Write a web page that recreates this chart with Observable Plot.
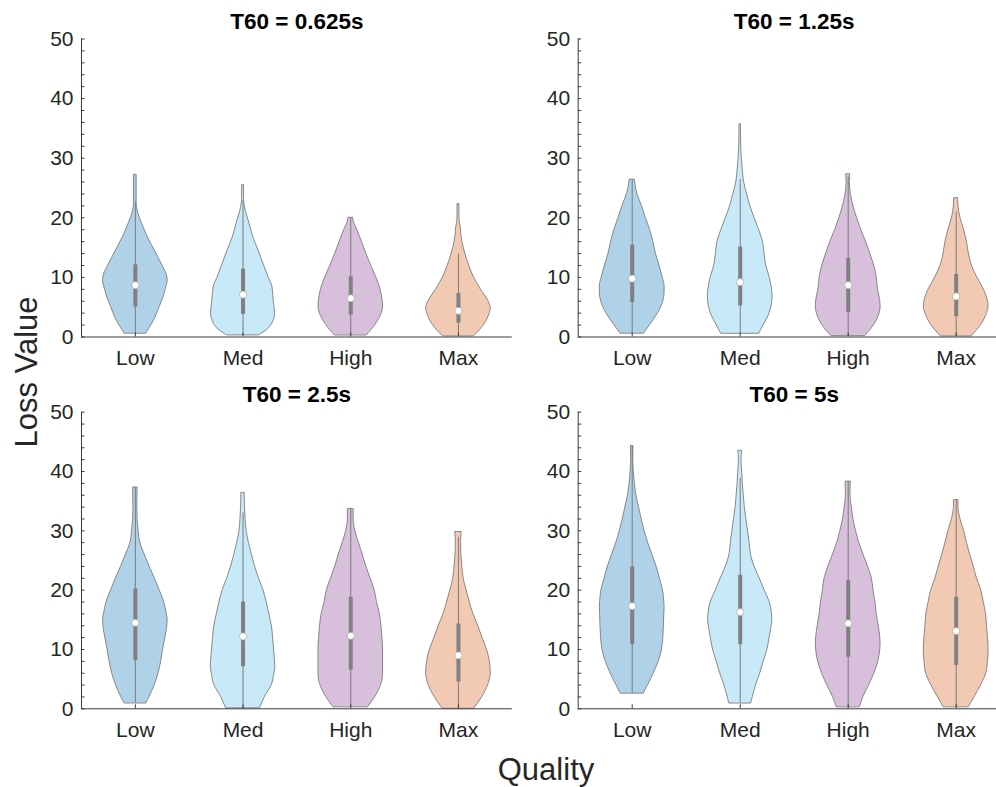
<!DOCTYPE html>
<html>
<head>
<meta charset="utf-8">
<script src="https://cdn.jsdelivr.net/npm/d3@7"></script>
<script src="https://cdn.jsdelivr.net/npm/@observablehq/plot@0.6"></script>
<style>
  body { margin: 0; background: #fff; }
  #fig { position: relative; width: 996px; height: 787px; overflow: hidden;
         font-family: "Liberation Sans", Arial, Helvetica, sans-serif; color: #262626; }
  .panel { position: absolute; }
  .label { position: absolute; font-size: 31px; white-space: nowrap; line-height: 1; }
</style>
</head>
<body>
<div id="fig"></div>
<script>
// Quality levels along the x axis and the reverberation time of each panel
const qualities = ["Low", "Med", "High", "Max"];
const panelTitles = ["T60 = 0.625s", "T60 = 1.25s", "T60 = 2.5s", "T60 = 5s"];
const fillColors = ["#b0d2e9", "#c8e9f7", "#d8bfdc", "#f2cab4"];

// Violin outlines: [loss value, relative density (1 = widest)], from min to max of each group
const outlineT0625 = [
  [[0.6,0.34],[1.5,0.44],[3,0.60],[5,0.75],[6.5,0.86],[8,0.94],[9.5,1.0],[10.5,0.97],[12,0.84],[14.5,0.60],[16.7,0.39],[19,0.21],[21.2,0.07],[22.5,0.04],[27.2,0.04]],
  [[0.3,0.50],[1.2,0.75],[2.5,0.93],[4,0.99],[6,0.95],[8.4,0.91],[10,0.79],[12.3,0.63],[14.5,0.48],[16.7,0.32],[19,0.20],[21.8,0.06],[23,0.03],[25.5,0.03]],
  [[0.3,0.50],[2,0.76],[4,0.96],[5,1.0],[6,0.99],[8,0.92],[10,0.79],[12,0.63],[14,0.48],[16,0.34],[18,0.20],[19.2,0.10],[20,0.07]],
  [[0.15,0.49],[2,0.79],[4,0.97],[4.7,1.0],[6,0.93],[8,0.69],[10,0.48],[12,0.33],[14,0.21],[16,0.12],[17,0.09],[18,0.08],[19,0.05],[20,0.03],[22.3,0.03]]
];
const outlineT125 = [
  [[0.6,0.37],[2,0.55],[4,0.80],[6,0.96],[7.5,1.0],[8.5,1.0],[10,0.94],[12,0.84],[14,0.73],[16,0.65],[18,0.55],[20,0.42],[22,0.30],[24,0.16],[26.4,0.08]],
  [[0.6,0.59],[2,0.73],[4,0.91],[6,0.99],[7,1.0],[8,0.98],[10,0.91],[12,0.80],[14,0.75],[16,0.70],[18,0.58],[20,0.44],[22,0.31],[24,0.21],[26,0.12],[28,0.08],[30,0.05],[32,0.03],[35.7,0.02]],
  [[0.2,0.53],[2,0.80],[4,0.97],[5,1.0],[6,0.99],[8,0.92],[10,0.88],[12,0.80],[14,0.68],[16,0.55],[18,0.40],[20,0.27],[22,0.16],[24,0.08],[26,0.05],[27.3,0.06]],
  [[0.15,0.48],[2,0.77],[4,0.95],[5,1.0],[6,0.98],[8,0.85],[10,0.65],[12,0.48],[14,0.39],[16,0.33],[18,0.24],[20,0.13],[22,0.07],[23.3,0.06]]
];
const outlineT25 = [
  [[0.95,0.34],[2,0.44],[4,0.60],[6,0.72],[8,0.80],[10,0.86],[12,0.93],[14,0.99],[15,1.0],[16,0.97],[18,0.89],[20,0.75],[22,0.60],[24,0.44],[26,0.29],[28,0.15],[30,0.10],[32,0.07],[34,0.06],[37.3,0.07]],
  [[0.15,0.53],[2,0.68],[4,0.89],[6,0.97],[7,1.0],[8,0.99],[10,0.96],[12,0.93],[14,0.89],[16,0.81],[18,0.73],[20,0.63],[22,0.49],[24,0.37],[26,0.27],[28,0.18],[30,0.11],[32,0.08],[34,0.06],[36.4,0.05]],
  [[0.3,0.54],[2,0.76],[4,0.94],[6,1.0],[8,1.0],[10,1.0],[12,0.98],[14,0.95],[16,0.90],[18,0.81],[20,0.74],[22,0.61],[24,0.48],[26,0.37],[28,0.25],[30,0.14],[32,0.09],[33.7,0.09]],
  [[0.05,0.49],[2,0.74],[4,0.92],[6,1.0],[8,0.97],[10,0.88],[12,0.74],[14,0.61],[16,0.46],[18,0.35],[20,0.25],[22,0.16],[24,0.12],[26,0.09],[28,0.08],[29.8,0.10]]
];
const outlineT5 = [
  [[2.6,0.36],[4,0.49],[6,0.67],[8,0.82],[10,0.92],[12,0.96],[14,0.98],[16,0.99],[17,1.0],[18,0.99],[20,0.95],[22,0.85],[24,0.75],[26,0.62],[28,0.49],[30,0.38],[32,0.29],[34,0.21],[36,0.13],[38,0.08],[40,0.05],[42,0.03],[44.3,0.04]],
  [[0.95,0.34],[2,0.39],[4,0.49],[6,0.62],[8,0.73],[10,0.84],[12,0.91],[14,0.97],[15,0.99],[16,0.98],[18,0.91],[20,0.75],[22,0.60],[24,0.44],[26,0.33],[28,0.29],[30,0.24],[32,0.19],[34,0.14],[36,0.11],[38,0.08],[40,0.06],[42,0.04],[43.5,0.06]],
  [[0.3,0.36],[2,0.47],[4,0.65],[6,0.81],[8,0.93],[10,0.99],[11,1.0],[12,0.99],[14,0.94],[16,0.88],[18,0.84],[20,0.78],[22,0.73],[24,0.61],[26,0.47],[28,0.34],[30,0.24],[32,0.16],[34,0.11],[36,0.07],[38.3,0.08]],
  [[0.3,0.39],[2,0.57],[4,0.77],[6,0.93],[8,0.98],[10,1.0],[12,0.98],[14,0.95],[16,0.92],[18,0.85],[20,0.77],[22,0.64],[24,0.54],[26,0.43],[28,0.33],[30,0.24],[32,0.13],[34,0.07],[35.2,0.07]]
];
const outlines = [outlineT0625, outlineT125, outlineT25, outlineT5];

// Box statistics per panel (rows) and quality (columns)
const medians        = [[8.7, 7.1, 6.5, 4.4], [9.8, 9.2, 8.7, 6.8], [14.5, 12.2, 12.3, 9.0], [17.3, 16.3, 14.4, 13.1]];
const lowerQuartiles = [[5.0, 3.8, 3.7, 2.3], [5.8, 5.2, 4.1, 3.4], [8.1, 7.1, 6.5, 4.5], [10.8, 10.8, 8.7, 7.3]];
const upperQuartiles = [[12.1, 11.4, 10.1, 7.3], [15.4, 15.1, 13.2, 10.5], [20.2, 18.0, 18.8, 14.3], [23.9, 22.5, 21.6, 18.8]];
const upperWhiskers  = [[22.7, 22.8, 20.0, 13.9], [26.4, 26.4, 26.8, 21.0], [37.3, 33.0, 33.7, 28.9], [44.3, 38.8, 38.3, 35.2]];

const yMajor = [0, 10, 20, 30, 40, 50];
const yMinor = d3.range(0, 51, 2);

const FONT = '"Liberation Sans", Arial, Helvetica, sans-serif';
const AXIS = "#3a3a3a";
const HALF = 0.3; // widest half-width of a violin, in category units

// Placement of the four panels inside the figure (pixels)
const layout = [
  {left: 0,   top: 0,   width: 520, height: 375, ml: 81,   mr: 8.2, mt: 38.5, mb: 38.5},
  {left: 497, top: 0,   width: 513, height: 375, ml: 80.7, mr: 0.3, mt: 38.5, mb: 38.5},
  {left: 0,   top: 373, width: 520, height: 375, ml: 81,   mr: 8.2, mt: 38.7, mb: 39.7},
  {left: 497, top: 373, width: 513, height: 375, ml: 80.7, mr: 0.3, mt: 38.7, mb: 39.7}
];

const fig = document.getElementById("fig");

layout.forEach((L, k) => {
  const fw = L.width - L.ml - L.mr;
  const fh = L.height - L.mt - L.mb;
  const marks = [];

  outlines[k].forEach((outline, i) => {
    const c = i + 1;
    const rows = outline.map(([y, w]) => ({y, w}));
    marks.push(Plot.areaX(rows, {
      y: "y",
      x1: d => c - HALF * d.w,
      x2: d => c + HALF * d.w,
      curve: "monotone-y",
      fill: fillColors[i],
      stroke: "#7c7c7c",
      strokeWidth: 0.9
    }));
  });

  const stats = qualities.map((q, i) => ({
    c: i + 1,
    lo: outlines[k][i][0][0],
    hi: upperWhiskers[k][i],
    q1: lowerQuartiles[k][i],
    q3: upperQuartiles[k][i],
    med: medians[k][i]
  }));

  // whiskers, interquartile boxes and medians
  marks.push(Plot.ruleX(stats, {x: "c", y1: "lo", y2: "hi", stroke: "#7a7a7a", strokeWidth: 1}));
  marks.push(Plot.ruleX(stats, {x: "c", y1: "q1", y2: "q3", stroke: "#808080", strokeWidth: 4}));
  marks.push(Plot.dot(stats, {x: "c", y: "med", r: 3.6, fill: "white", stroke: "#9a9a9a", strokeWidth: 0.6}));

  // axes: lines, inward ticks and labels
  marks.push(Plot.ruleX([0.5], {stroke: AXIS, strokeWidth: 1}));
  marks.push(Plot.ruleY([0], {stroke: AXIS, strokeWidth: 1}));
  marks.push(Plot.tickY(yMinor, {y: d => d, insetRight: fw - 3.5, stroke: AXIS, strokeWidth: 1}));
  marks.push(Plot.tickX([1, 2, 3, 4], {x: d => d, insetTop: fh - 4, stroke: AXIS, strokeWidth: 1}));
  marks.push(Plot.axisY({ticks: yMajor, tickSize: 0, tickPadding: 8, fontSize: 21, label: null, fill: "#262626"}));
  marks.push(Plot.axisX({ticks: [1, 2, 3, 4], tickFormat: v => qualities[v - 1], tickSize: 0, tickPadding: 13, fontSize: 21, label: null, fill: "#262626"}));

  marks.push(Plot.text([panelTitles[k]], {
    frameAnchor: "top", dy: -10.5, lineAnchor: "bottom",
    fontSize: 22.5, fontWeight: "bold", fill: "black"
  }));

  const chart = Plot.plot({
    width: L.width,
    height: L.height,
    marginLeft: L.ml,
    marginRight: L.mr,
    marginTop: L.mt,
    marginBottom: L.mb,
    x: {type: "linear", domain: [0.5, 4.5]},
    y: {type: "linear", domain: [0, 50]},
    style: {fontFamily: FONT, background: "transparent", overflow: "visible", color: "#262626"},
    marks
  });
  chart.classList.add("panel");
  chart.style.left = L.left + "px";
  chart.style.top = L.top + "px";
  fig.appendChild(chart);
});

// shared axis titles
const yLab = document.createElement("div");
yLab.className = "label";
yLab.textContent = "Loss Value";
yLab.style.left = "26px";
yLab.style.top = "372px";
yLab.style.transform = "translate(-50%, -50%) rotate(-90deg)";
fig.appendChild(yLab);

const xLab = document.createElement("div");
xLab.className = "label";
xLab.textContent = "Quality";
xLab.style.left = "546px";
xLab.style.top = "769px";
xLab.style.transform = "translate(-50%, -50%)";
fig.appendChild(xLab);
</script>
</body>
</html>
